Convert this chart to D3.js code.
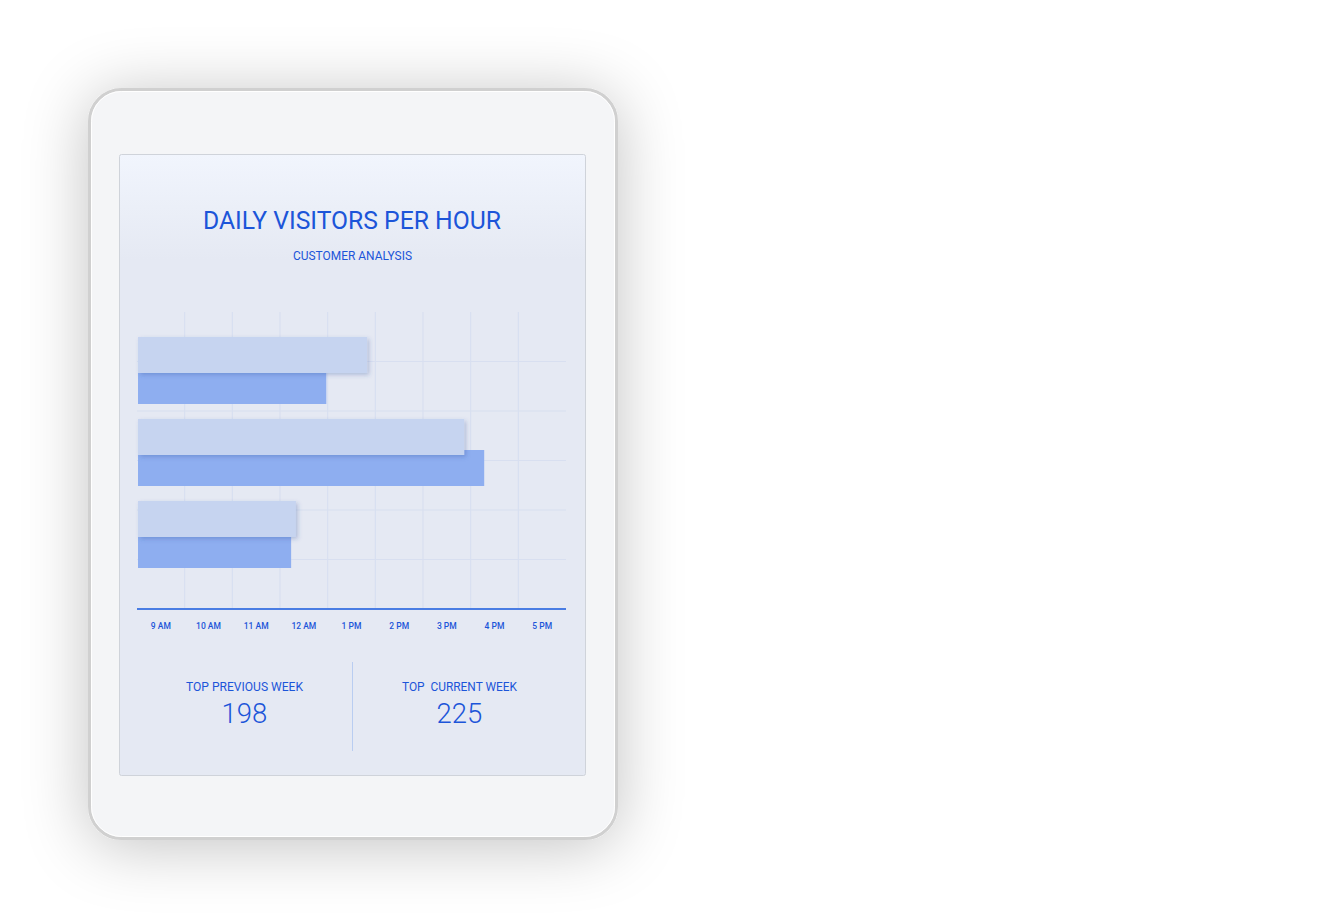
<!DOCTYPE html>
<html>
<head>
<meta charset="utf-8">
<script src="https://cdn.jsdelivr.net/npm/d3@7/dist/d3.min.js"></script>
<style>
  html, body { margin: 0; padding: 0; background: #ffffff; }
  svg { display: block; }
  text { font-family: Roboto, "Noto Sans", sans-serif; }
</style>
</head>
<body>
<div id="chart"></div>
<script>
// ---- data ----
const title = "DAILY VISITORS PER HOUR";
const subtitle = "CUSTOMER ANALYSIS";
const hourLabels = ["9 AM", "10 AM", "11 AM", "12 AM", "1 PM", "2 PM", "3 PM", "4 PM", "5 PM"];
const groups = ["G1", "G2", "G3"];
const previousWeek = [241, 343, 166];
const currentWeek = [198, 364, 161];
const statLabels = ["TOP PREVIOUS WEEK", "TOP  CURRENT WEEK"];
const statValues = [198, 225];

// ---- layout ----
const W = 1340, H = 924;
const svg = d3.select("#chart").append("svg").attr("width", W).attr("height", H);
const defs = svg.append("defs");

const sh = defs.append("filter").attr("id", "tabShadow")
  .attr("filterUnits", "userSpaceOnUse")
  .attr("x", -100).attr("y", -100).attr("width", 900).attr("height", 1100);
sh.append("feDropShadow").attr("dx", 0).attr("dy", 6).attr("stdDeviation", 32)
  .attr("flood-color", "#000").attr("flood-opacity", 0.24);

const bsh = defs.append("filter").attr("id", "barShadow")
  .attr("x", "-10%").attr("y", "-30%").attr("width", "130%").attr("height", "180%");
bsh.append("feDropShadow").attr("dx", 2).attr("dy", 2).attr("stdDeviation", 2)
  .attr("flood-color", "#2a4a9a").attr("flood-opacity", 0.28);

const grad = defs.append("linearGradient").attr("id", "screenGrad")
  .attr("x1", 0).attr("y1", 0).attr("x2", 0).attr("y2", 1);
grad.append("stop").attr("offset", "0%").attr("stop-color", "#f1f5fd");
grad.append("stop").attr("offset", "17%").attr("stop-color", "#e5e9f3");
grad.append("stop").attr("offset", "100%").attr("stop-color", "#e5e9f3");

// tablet body
svg.append("rect").attr("x", 89.5).attr("y", 89.5).attr("width", 527).attr("height", 749)
  .attr("rx", 32).attr("fill", "#f4f5f7").attr("stroke", "#d0d0d0").attr("stroke-width", 3)
  .attr("filter", "url(#tabShadow)");
svg.append("rect").attr("x", 91.5).attr("y", 91.5).attr("width", 523).attr("height", 745)
  .attr("rx", 30).attr("fill", "none").attr("stroke", "#ffffff").attr("stroke-width", 1);

// screen
svg.append("rect").attr("x", 119.5).attr("y", 154.5).attr("width", 466).attr("height", 621)
  .attr("rx", 2).attr("fill", "url(#screenGrad)").attr("stroke", "#cfd3da").attr("stroke-width", 1);

const blue = "#1c55d9";

// titles
svg.append("text").attr("x", 352).attr("y", 228.5).attr("text-anchor", "middle")
  .attr("font-size", 26.5).attr("font-weight", 400).attr("fill", blue)
  .attr("textLength", 298).attr("lengthAdjust", "spacingAndGlyphs").text(title);
svg.append("text").attr("x", 352.5).attr("y", 259.5).attr("text-anchor", "middle")
  .attr("font-size", 13.5).attr("font-weight", 400).attr("fill", blue)
  .attr("textLength", 119).attr("lengthAdjust", "spacingAndGlyphs").text(subtitle);

// ---- scales ----
const xBand = d3.scaleBand().domain(hourLabels).range([137, 566]);
const x = d3.scaleLinear().domain([0, 450]).range([138, 566]);
const gridY = d3.scaleLinear().domain([0, 6]).range([609, 312]);
const y = d3.scaleBand().domain(groups).range([337, 583]).padding(0);
const barH = 36, offset = 31;

// grid
const grid = svg.append("g").attr("stroke", "#d8dff0").attr("stroke-width", 1.2);
grid.selectAll("line.v").data(hourLabels.slice(1)).join("line")
  .attr("class", "v")
  .attr("x1", d => xBand(d)).attr("x2", d => xBand(d))
  .attr("y1", gridY(6)).attr("y2", gridY(0));
grid.selectAll("line.h").data(d3.range(1, 6)).join("line")
  .attr("class", "h")
  .attr("x1", 137).attr("x2", 566)
  .attr("y1", d => gridY(d)).attr("y2", d => gridY(d));

// bars
const rows = groups.map((g, i) => ({ g, prev: previousWeek[i], curr: currentWeek[i] }));
svg.append("g").selectAll("rect").data(rows).join("rect")
  .attr("x", x(0)).attr("y", d => y(d.g) + offset)
  .attr("width", d => x(d.curr) - x(0)).attr("height", barH)
  .attr("fill", "#8eaef0");
svg.append("g").selectAll("rect").data(rows).join("rect")
  .attr("x", x(0)).attr("y", d => y(d.g))
  .attr("width", d => x(d.prev) - x(0)).attr("height", barH)
  .attr("fill", "#c6d4f0").attr("filter", "url(#barShadow)");

// axis
const axis = svg.append("g").attr("transform", `translate(0,${gridY(0)})`)
  .call(d3.axisBottom(xBand).tickSize(0).tickPadding(14));
axis.select(".domain").attr("stroke", "#4a7de3").attr("stroke-width", 2)
  .attr("d", "M137,0H566");
axis.selectAll("text").attr("font-family", "Roboto, sans-serif").attr("font-size", 8.5)
  .attr("font-weight", 500).attr("fill", blue);

// stats
svg.append("line").attr("x1", 352.5).attr("x2", 352.5).attr("y1", 662).attr("y2", 751)
  .attr("stroke", "#b9cdf1").attr("stroke-width", 1);
const statX = [244.5, 459.5];
const statG = svg.append("g").selectAll("g").data(statLabels).join("g");
statG.append("text").attr("x", (d, i) => statX[i]).attr("y", 691)
  .attr("text-anchor", "middle").attr("font-size", 13.5).attr("fill", blue)
  .attr("textLength", (d, i) => i === 0 ? 117 : 115).attr("lengthAdjust", "spacingAndGlyphs")
  .attr("xml:space", "preserve").style("white-space", "pre")
  .text(d => d);
statG.append("text").attr("x", (d, i) => statX[i]).attr("y", 723)
  .attr("text-anchor", "middle").attr("font-size", 27.5).attr("font-weight", 300).attr("fill", blue)
  .text((d, i) => statValues[i]);
</script>
</body>
</html>
